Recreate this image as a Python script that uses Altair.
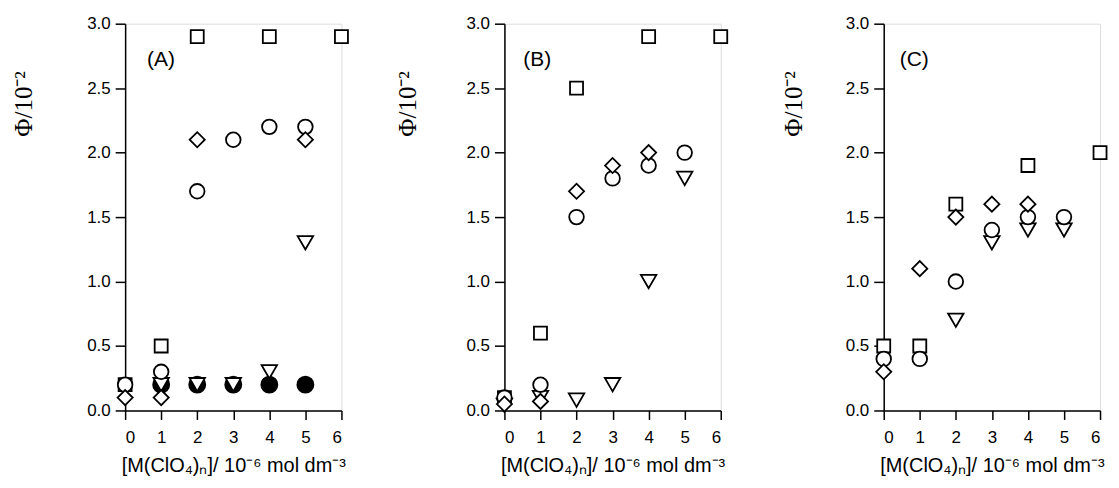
import altair as alt
import pandas as pd

# ---------------- data ----------------
x_ticks = [0, 1, 2, 3, 4, 5, 6]
y_ticks = [0.0, 0.5, 1.0, 1.5, 2.0, 2.5, 3.0]

# Panel A
A_square_x = [0, 1, 2, 4, 6]
A_square_y = [0.2, 0.5, 2.9, 2.9, 2.9]
A_filled_x = [1, 2, 3, 4, 5]
A_filled_y = [0.2, 0.2, 0.2, 0.2, 0.2]
A_tri_x = [1, 2, 3, 4, 5]
A_tri_y = [0.2, 0.2, 0.2, 0.3, 1.3]
A_circle_x = [0, 1, 2, 3, 4, 5]
A_circle_y = [0.2, 0.3, 1.7, 2.1, 2.2, 2.2]
A_diamond_x = [0, 1, 2, 5]
A_diamond_y = [0.1, 0.1, 2.1, 2.1]

# Panel B
B_square_x = [0, 1, 2, 4, 6]
B_square_y = [0.1, 0.6, 2.5, 2.9, 2.9]
B_tri_x = [0, 1, 2, 3, 4, 5]
B_tri_y = [0.04, 0.1, 0.08, 0.2, 1.0, 1.8]
B_circle_x = [0, 1, 2, 3, 4, 5]
B_circle_y = [0.1, 0.2, 1.5, 1.8, 1.9, 2.0]
B_diamond_x = [0, 1, 2, 3, 4]
B_diamond_y = [0.05, 0.07, 1.7, 1.9, 2.0]

# Panel C
C_square_x = [0, 1, 2, 4, 6]
C_square_y = [0.5, 0.5, 1.6, 1.9, 2.0]
C_tri_x = [2, 3, 4, 5]
C_tri_y = [0.7, 1.3, 1.4, 1.4]
C_circle_x = [0, 1, 2, 3, 4, 5]
C_circle_y = [0.4, 0.4, 1.0, 1.4, 1.5, 1.5]
C_diamond_x = [0, 1, 2, 3, 4]
C_diamond_y = [0.3, 1.1, 1.5, 1.6, 1.6]

panel_labels = ["(A)", "(B)", "(C)"]
x_title = "[M(ClO\u2084)\u2099]/ 10\u207b\u2076 mol dm\u207b\u00b3"
y_title = "\u03a6/10\u207b\u00b2"

# ---------------- styles ----------------
STYLE = {
    "square": dict(shape="square", size=170, fill="white"),
    "filled": dict(shape="circle", size=260, fill="black"),
    "tri": dict(shape="triangle-down", size=240, fill="white"),
    "circle": dict(shape="circle", size=215, fill="white"),
    "diamond": dict(shape="diamond", size=230, fill="white"),
}
ORDER = ["square", "filled", "tri", "circle", "diamond"]

xscale = alt.Scale(domain=[0, 6], nice=False, zero=False)
yscale = alt.Scale(domain=[0, 3], nice=False, zero=False)


def make_axes(title_x):
    xaxis = alt.Axis(
        values=x_ticks, format="d", title=x_title, grid=False,
        labelFont="Liberation Sans", labelFontSize=17, labelColor="black",
        labelPadding=10, tickSize=9, tickWidth=1.5, tickColor="black",
        domainColor="black", domainWidth=1.5,
        titleFont="Liberation Sans", titleFontSize=20, titleFontWeight="normal",
        titleColor="black", titlePadding=10,
    )
    yaxis = alt.Axis(
        values=y_ticks, format=".1f", title=y_title, grid=False,
        labelFont="Liberation Sans", labelFontSize=17, labelColor="black",
        labelPadding=5, tickSize=10, tickWidth=1.5, tickColor="black",
        domainColor="black", domainWidth=1.5,
        titleFont="Liberation Serif", titleFontSize=25, titleFontWeight="normal",
        titleColor="black", titleAngle=270, titleAlign="center",
        titleBaseline="middle", titleX=title_x, titleY=80,
    )
    return xaxis, yaxis


def panel(series, label, label_x, title_x):
    xaxis, yaxis = make_axes(title_x)
    layers = []
    for key in ORDER:
        if key not in series:
            continue
        xs, ys = series[key]
        df = pd.DataFrame({"x": xs, "y": ys})
        st = STYLE[key]
        layers.append(
            alt.Chart(df)
            .mark_point(
                shape=st["shape"], size=st["size"], filled=True,
                fill=st["fill"], stroke="black", strokeWidth=1.8, opacity=1,
            )
            .encode(
                x=alt.X("x:Q", scale=xscale, axis=xaxis),
                y=alt.Y("y:Q", scale=yscale, axis=yaxis),
            )
        )
    txt = (
        alt.Chart(pd.DataFrame({"label": [label]}))
        .mark_text(align="left", baseline="middle", fontSize=21,
                   font="Liberation Sans", color="black")
        .encode(x=alt.value(label_x), y=alt.value(36), text="label:N")
    )
    layers.append(txt)
    return alt.layer(*layers).properties(width=217, height=388)


pA = panel({
    "square": (A_square_x, A_square_y),
    "filled": (A_filled_x, A_filled_y),
    "tri": (A_tri_x, A_tri_y),
    "circle": (A_circle_x, A_circle_y),
    "diamond": (A_diamond_x, A_diamond_y),
}, panel_labels[0], 22, -102)

pB = panel({
    "square": (B_square_x, B_square_y),
    "tri": (B_tri_x, B_tri_y),
    "circle": (B_circle_x, B_circle_y),
    "diamond": (B_diamond_x, B_diamond_y),
}, panel_labels[1], 19, -97)

pC = panel({
    "square": (C_square_x, C_square_y),
    "tri": (C_tri_x, C_tri_y),
    "circle": (C_circle_x, C_circle_y),
    "diamond": (C_diamond_x, C_diamond_y),
}, panel_labels[2], 16, -90)

chart = (
    alt.hconcat(pA, pB, pC, spacing=163.5, bounds="flush")
    .properties(padding={"left": 2.5, "top": 5, "right": 0, "bottom": 0})
    .configure_view(stroke="black", strokeWidth=1.5)
    .configure(background="white")
)

chart.save("out.html", embed_options={"renderer": "svg", "actions": False})
